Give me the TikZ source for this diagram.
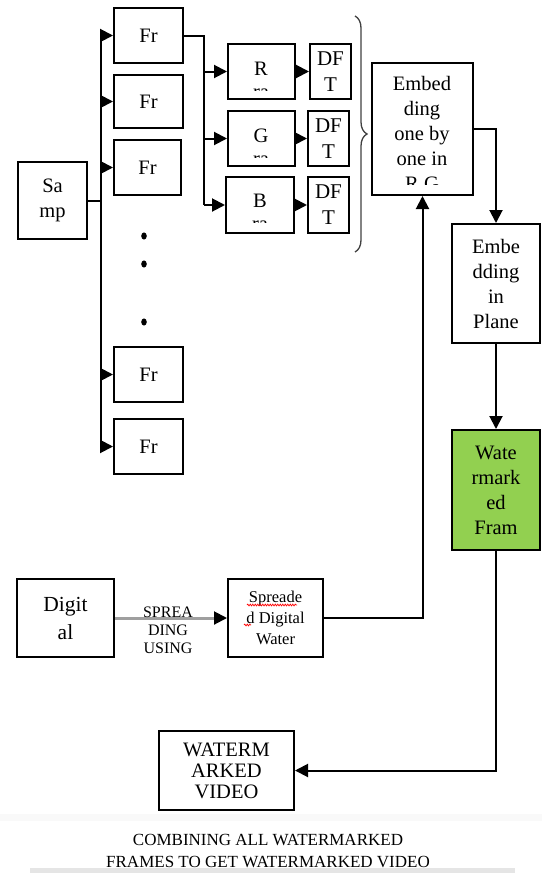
\documentclass[tikz,border=0pt]{standalone}
\usepackage{fontspec}
\setmainfont{Liberation Serif}
\usetikzlibrary{arrows.meta,decorations.pathreplacing,decorations.pathmorphing,calc}
\definecolor{wmgreen}{HTML}{92D050}
\tikzset{
  box/.style={draw=black,line width=2pt,rectangle,inner sep=0pt,align=center,
    font=\fontsize{20.5}{25}\selectfont},
  arr/.style={line width=2pt,-{Triangle[length=13pt,width=13pt]}},
  ln/.style={line width=2pt},
  txt/.style={inner sep=0pt,align=center},
}
\begin{document}
\begin{tikzpicture}[x=1pt,y=-1pt]
\useasboundingbox (0,0) rectangle (542,873);
% faint background band at bottom
\fill[gray!5] (0,814) rectangle (542,821);
\fill[gray!20] (30,868) rectangle (515,873);

% Samp and frames
\node[box,minimum width=69pt,minimum height=77pt] (samp) at (52.5,200.5) {Sa\\mp};
\node[box,minimum width=69pt,minimum height=55pt] (fr1) at (148.5,35.5) {Fr};
\node[box,minimum width=69pt,minimum height=53pt] (fr2) at (148.5,101.5) {Fr};
\node[box,minimum width=67pt,minimum height=55pt] (fr3) at (147.5,167.5) {Fr};
\node[box,minimum width=69pt,minimum height=55pt] (fr4) at (148.5,374.5) {Fr};
\node[box,minimum width=69pt,minimum height=55pt] (fr5) at (148.5,446.5) {Fr};

% dots
\fill (144,236) ellipse [x radius=2.8pt,y radius=3.6pt];
\fill (144,264) ellipse [x radius=2.8pt,y radius=3.6pt];
\fill (144,322) ellipse [x radius=2.8pt,y radius=3.6pt];

% R G B boxes
\node[box,minimum width=67pt,minimum height=55pt] (rb) at (261.5,71.5) {};
\node[box,minimum width=67pt,minimum height=55pt] (gb) at (261.5,138.5) {};
\node[box,minimum width=68pt,minimum height=56pt] (bb) at (260,205) {};
\begin{scope}
\clip (229,45) rectangle (294,90);
\node[txt,font=\fontsize{20.5}{23}\selectfont] at (261,80) {R\\ra};
\end{scope}
\begin{scope}
\clip (229,112) rectangle (294,157);
\node[txt,font=\fontsize{20.5}{23}\selectfont] at (261,147) {G\\ra};
\end{scope}
\begin{scope}
\clip (227,178) rectangle (293,222);
\node[txt,font=\fontsize{20.5}{23}\selectfont] at (260,212) {B\\ra};
\end{scope}

% DFT boxes
\node[box,minimum width=41pt,minimum height=55pt,font=\fontsize{21}{26}\selectfont] (d1) at (330.5,71.5) {DF\\T};
\node[box,minimum width=41pt,minimum height=55pt,font=\fontsize{21}{26}\selectfont] (d2) at (328.5,138.5) {DF\\T};
\node[box,minimum width=41pt,minimum height=56pt,font=\fontsize{21}{26}\selectfont] (d3) at (328.5,205) {DF\\T};

% brace
\draw[line width=1.3pt,black!75,decorate,decoration={brace,amplitude=12pt}] (355,16) -- (355,252);

% Embedding box
\node[box,minimum width=101pt,minimum height=132pt] (emb) at (422.5,129) {};
\begin{scope}
\clip (374,65) rectangle (471,184);
\node[txt,font=\fontsize{20.5}{25}\selectfont] at (422,135) {Embed\\ding\\one by\\one in\\R,G};
\end{scope}

\node[box,minimum width=88pt,minimum height=119pt] (plane) at (496,283.5) {Embe\\dding\\in\\Plane};
\node[box,fill=wmgreen,minimum width=88pt,minimum height=120pt] (green) at (496,490) {Wate\\rmark\\ed\\Fram};

% Digital and spread
\node[box,minimum width=97pt,minimum height=78pt,font=\fontsize{21.5}{28}\selectfont] (dig) at (65.5,618) {Digit\\al};
\node[box,minimum width=95pt,minimum height=78pt,font=\fontsize{16.5}{21}\selectfont] (spr) at (275.5,618) {Spreade\\d Digital\\Water};
\draw[red,line width=0.7pt,decorate,decoration={snake,segment length=2.5pt,amplitude=0.9pt}] (247,605) -- (297,605);
\draw[red,line width=0.7pt,decorate,decoration={snake,segment length=2.5pt,amplitude=0.9pt}] (244,625) -- (251,625);

\node[box,minimum width=135pt,minimum height=79pt,font=\fontsize{20.5}{21}\selectfont] (wmv) at (226.5,770.5) {WATERM\\ARKED\\VIDEO};

% caption
\node[txt,font=\fontsize{17}{22}\selectfont] (cap) at (268,851) {COMBINING ALL WATERMARKED\\FRAMES TO GET WATERMARKED VIDEO};

% bus
\coordinate (bt) at (101,35);
\coordinate (bb2) at (101,446);
\draw[ln] (bt) -- (bb2);
\draw[ln] (samp.east) -- (samp.east -| bt);
\draw[arr] (fr1.west -| bt) -- (fr1.west);
\draw[arr] (fr2.west -| bt) -- (fr2.west);
\draw[arr] (fr3.west -| bt) -- (fr3.west);
\draw[arr] (fr4.west -| bt) -- (fr4.west);
\draw[arr] (fr5.west -| bt) -- (fr5.west);

% frame to RGB
\coordinate (jR) at (204,0 |- rb.west);
\coordinate (jG) at (204,0 |- gb.west);
\coordinate (jB) at (204,0 |- bb.west);
\draw[ln] (fr1.east) -| (jB);
\draw[arr] (jR) -- (rb.west);
\draw[arr] (jG) -- (gb.west);
\draw[arr] (jB) -- (bb.west);

\draw[arr] (rb.east) -- (rb.east -| d1.west);
\draw[arr] (gb.east) -- (gb.east -| d2.west);
\draw[arr] (bb.east) -- (bb.east -| d3.west);

% right chain
\draw[arr] (emb.east) -| (plane.north);
\draw[arr] (plane.south) -- (green.north);
\draw[arr] (green.south) |- (wmv.east);
\draw[arr] (spr.east) -| (emb.south);

% spreading arrow
\draw[gray!75,line width=3pt] (dig.east) -- ($(spr.west)+(-12,0)$);
\draw[arr] ($(spr.west)+(-13,0)$) -- (spr.west);
\node[txt,font=\fontsize{16}{18}\selectfont] (lab) at (168,630) {SPREA\\DING\\USING};
\end{tikzpicture}
\end{document}
